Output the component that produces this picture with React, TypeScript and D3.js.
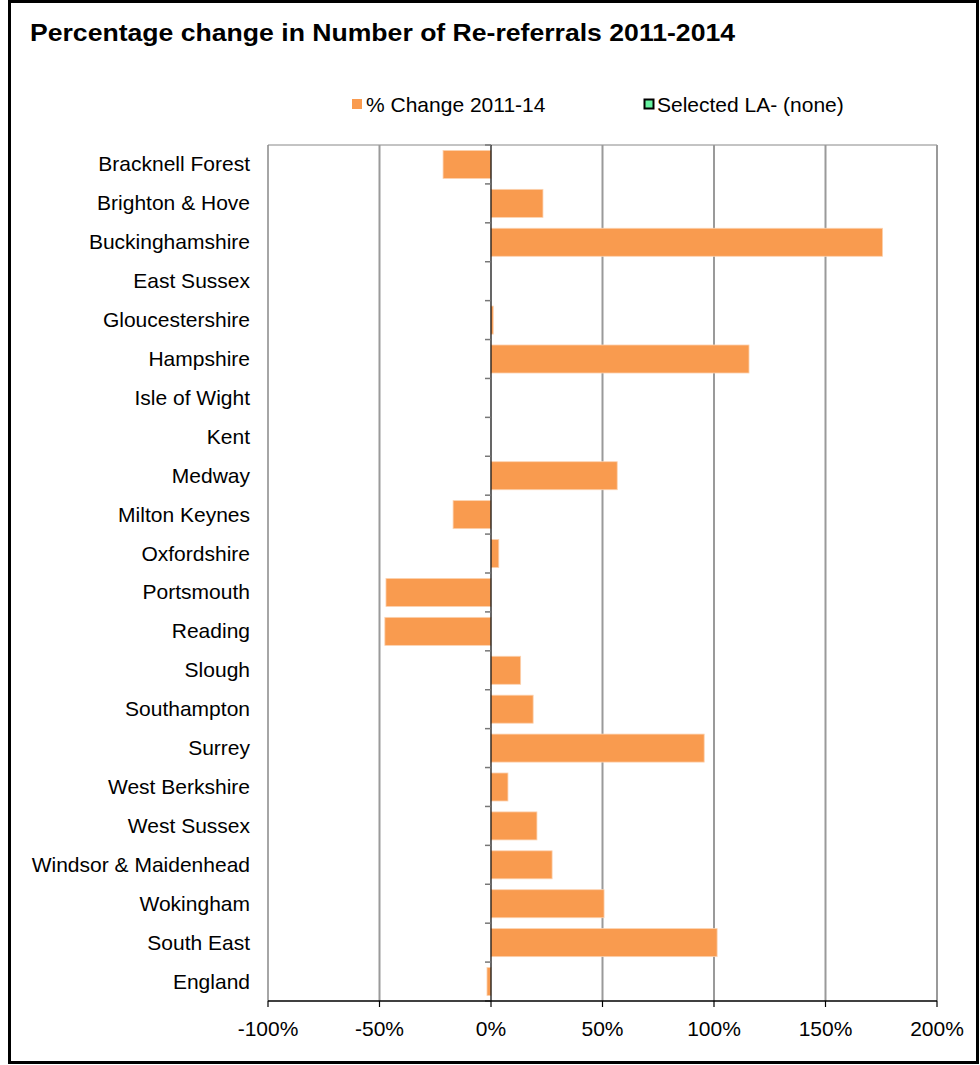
import React from "react";
import * as d3 from "d3";

const categories = [
  "Bracknell Forest", "Brighton & Hove", "Buckinghamshire", "East Sussex", "Gloucestershire",
  "Hampshire", "Isle of Wight", "Kent", "Medway", "Milton Keynes", "Oxfordshire", "Portsmouth",
  "Reading", "Slough", "Southampton", "Surrey", "West Berkshire", "West Sussex",
  "Windsor & Maidenhead", "Wokingham", "South East", "England",
];
const changeValues = [
  -0.215, 0.233, 1.756, 0, 0.01, 1.157, 0, 0, 0.566, -0.17, 0.035, -0.471,
  -0.476, 0.133, 0.189, 0.956, 0.076, 0.206, 0.274, 0.507, 1.014, -0.018,
];
const xTicks = [-1, -0.5, 0, 0.5, 1, 1.5, 2];
const title = "Percentage change in Number of Re-referrals 2011-2014";
const legendLabels = ["% Change 2011-14", "Selected LA- (none)"];

const W = 980, H = 1065;
const left = 268, right = 937, top = 145, bottom = 1001;
const FONT = "'Liberation Sans', Arial, sans-serif";
const BAR = "#F99B4F";

export default function App() {
  const x = d3.scaleLinear().domain([-1, 2]).range([left, right]);
  const y = d3.scaleBand<string>().domain(categories).range([top, bottom]).paddingInner(0.28).paddingOuter(0.14);
  const step = y.step();
  const fmt = (t: number) => `${Math.round(t * 100)}%`;
  return (
    <svg width={W} height={H} style={{ position: "absolute", left: 0, top: 0, background: "#fff" }} fontFamily={FONT}>
      <rect x={9.5} y={1.5} width={968} height={1061} fill="#fff" stroke="#000" strokeWidth={3} />
      <text x={30} y={41} fontSize={24} fontWeight="bold" fill="#000" textLength={705} lengthAdjust="spacingAndGlyphs">{title}</text>
      {/* legend */}
      <rect x={352} y={99} width={10} height={10} fill={BAR} />
      <text x={366} y={112} fontSize={21} fill="#000">{legendLabels[0]}</text>
      <rect x={644.5} y={99.5} width={9} height={9} fill="#66F2A0" stroke="#000" strokeWidth={2} />
      <text x={657} y={112} fontSize={21} fill="#000">{legendLabels[1]}</text>
      {/* plot frame */}
      <line x1={left} x2={right} y1={top} y2={top} stroke="#888" strokeWidth={1} />
      <line x1={left} x2={left} y1={top} y2={bottom} stroke="#888" strokeWidth={1.5} />
      {xTicks.map((t) => (
        t !== 0 && t !== -1 ? (
          <line key={"g" + t} x1={x(t)} x2={x(t)} y1={top} y2={bottom} stroke="#9a9a9a" strokeWidth={2} />
        ) : null
      ))}
      {/* bars */}
      {categories.map((c, i) => {
        const v = changeValues[i];
        const x0 = x(Math.min(0, v));
        const w = Math.abs(x(v) - x(0));
        return w > 0 ? (
          <rect key={c} x={x0} y={y(c)} width={w} height={y.bandwidth()} fill={BAR} stroke="#FCD2B0" strokeWidth={0.8} />
        ) : null;
      })}
      {/* category axis at zero */}
      <line x1={x(0)} x2={x(0)} y1={top} y2={bottom} stroke="#000" strokeWidth={1.2} />
      {d3.range(categories.length + 1).map((i) => (
        <line key={"ct" + i} x1={x(0) - 6} x2={x(0)} y1={top + i * step} y2={top + i * step} stroke="#777" strokeWidth={1.5} />
      ))}
      {categories.map((c) => (
        <text key={"l" + c} x={250} y={(y(c) as number) + y.bandwidth() / 2 + 7} fontSize={21} textAnchor="end" fill="#000">{c}</text>
      ))}
      {/* x axis */}
      <line x1={left} x2={right} y1={bottom} y2={bottom} stroke="#000" strokeWidth={1.5} />
      {xTicks.map((t) => (
        <g key={"xt" + t}>
          <line x1={x(t)} x2={x(t)} y1={bottom} y2={bottom + 6} stroke="#000" strokeWidth={1.2} />
          <text x={x(t)} y={bottom + 35} fontSize={21} textAnchor="middle" fill="#000">{fmt(t)}</text>
        </g>
      ))}
    </svg>
  );
}
